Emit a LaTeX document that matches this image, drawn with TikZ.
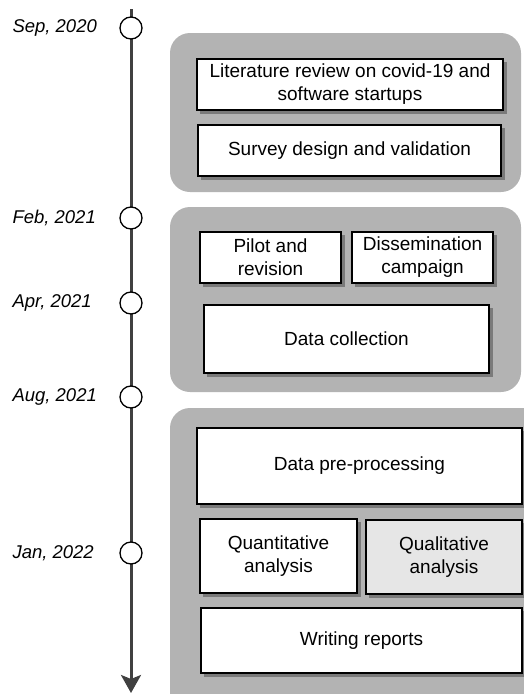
\documentclass[tikz,border=0pt]{standalone}
\usepackage{fontspec}
\setmainfont{Liberation Sans}
\usetikzlibrary{arrows.meta,shadows}
\definecolor{phasegray}{HTML}{B3B3B3}
\definecolor{shadegray}{HTML}{7A7A7A}
\definecolor{linegray}{HTML}{404040}
\definecolor{litegray}{HTML}{E6E6E6}

\begin{document}
\begin{tikzpicture}[x=1pt,y=-1pt,
  phase/.style={fill=phasegray,rounded corners=20pt},
  task/.style={draw,line width=1.4pt,fill=white,align=center,inner sep=0pt,
    font=\fontsize{19}{23}\selectfont,
    copy shadow={shadow xshift=3.5pt,shadow yshift=-3.5pt,fill=shadegray,draw=shadegray}},
  event/.style={circle,draw,line width=1.3pt,fill=white,minimum size=22pt,inner sep=0pt},
  date/.style={anchor=west,font=\fontsize{18.5}{22}\selectfont\itshape}]
\useasboundingbox (0,0) rectangle (523,694);
\fill [phase] (170,33) rectangle (521,192);
\fill [phase] (170,207) rectangle (521,392);
\fill [phase] (170,408) rectangle (545,720);
\coordinate (top) at (131,9);
\coordinate (bottom) at (131,693);
\draw [linegray,line width=3pt,-{Stealth[length=18pt,width=20pt,inset=4pt]}]
   (top) -- (bottom);
\node [event] (sep) at (131,28) {};
\node [event] (feb) at (131,218) {};
\node [event] (apr) at (131,303) {};
\node [event] (aug) at (131,397) {};
\node [event] (jan) at (131,553) {};
\node [date] (sepdate) at (9,28) {Sep, 2020};
\node [date] (febdate) at (9,218) {Feb, 2021};
\node [date] (aprdate) at (9,303) {Apr, 2021};
\node [date] (augdate) at (9,397) {Aug, 2021};
\node [date] (jandate) at (9,553) {Jan, 2022};
\node [task,minimum width=306pt,minimum height=51pt] (review) at (350,84.5)
   {Literature review on covid-19 and\\software startups};
\node [task,minimum width=303pt,minimum height=51pt] (survey) at (349.5,150.5)
   {Survey design and validation};
\node [task,minimum width=141pt,minimum height=51pt] (pilot) at (270.5,257.5)
   {Pilot and\\revision};
\node [task,minimum width=141pt,minimum height=51pt] (campaign) at (422.5,257.5)
   {Dissemination\\campaign};
\node [task,minimum width=285pt,minimum height=68pt] (collection) at (346.5,339)
   {Data collection};
\node [task,minimum width=325pt,minimum height=76pt] (preproc) at (359.5,466)
   {Data pre-processing};
\node [task,minimum width=157pt,minimum height=74pt] (quant) at (278.5,556)
   {Quantitative\\analysis};
\node [task,fill=litegray,minimum width=156pt,minimum height=74pt] (qual) at (444,557)
   {Qualitative\\analysis};
\node [task,minimum width=321pt,minimum height=65pt] (reports) at (361.5,640.5)
   {Writing reports};
\end{tikzpicture}
\end{document}
